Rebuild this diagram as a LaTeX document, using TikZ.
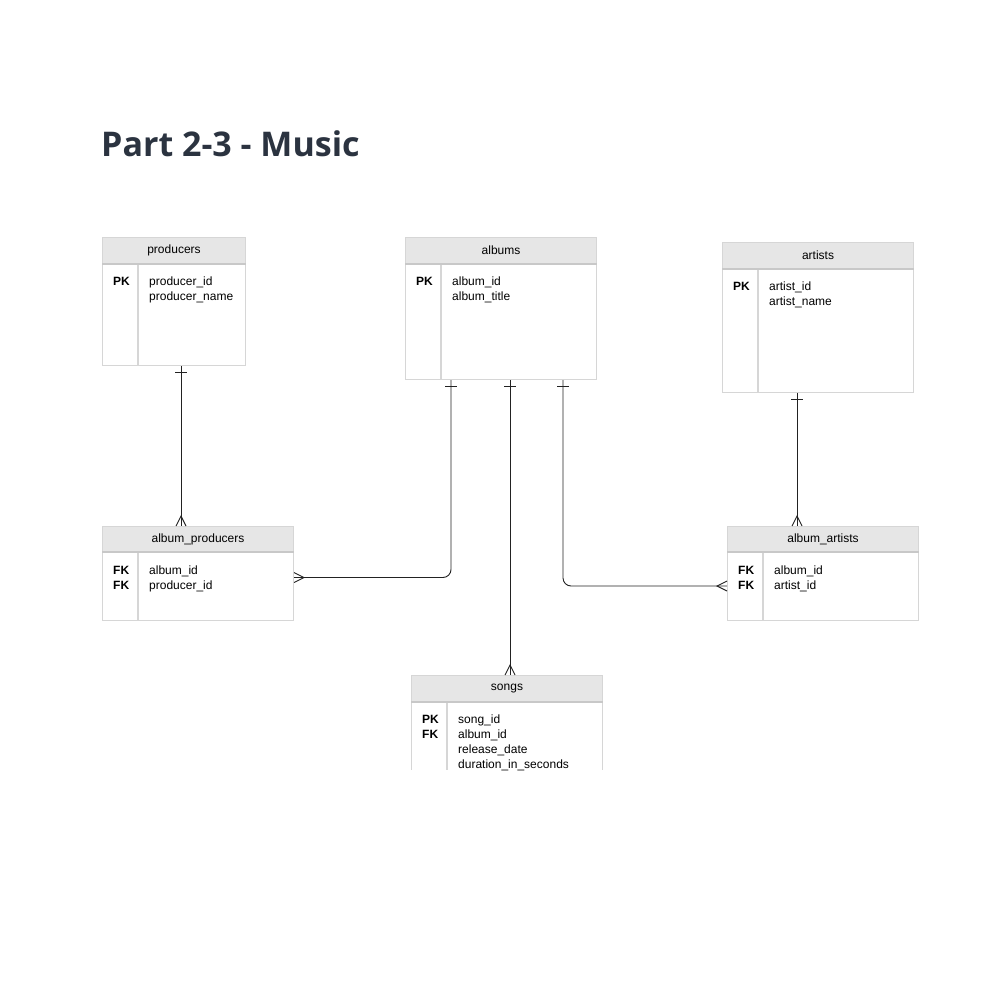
\documentclass[tikz,border=0pt]{standalone}
\usepackage{fontspec}
\setmainfont{Liberation Sans}
\newfontfamily\titlefont{Open Sans}
\usetikzlibrary{calc}
\definecolor{hdrfill}{HTML}{E6E6E6}
\definecolor{tblline}{HTML}{D6D6D6}
\definecolor{hdrline}{HTML}{C8C8C8}
\definecolor{titlecol}{HTML}{2B3340}
\definecolor{conncol}{HTML}{222222}
\newcommand{\ertab}[7]{% name, x1, ytop, x2, yhdr, ybottom, title
  \node[hdr, minimum width={#4-#2}, minimum height={#5-#3}, anchor=north west] (#1h) at (#2,#3) {#7};
  \node[body, minimum width={#4-#2}, minimum height={#6-#5}, anchor=north west] (#1) at (#2,#5) {};
  \draw[divline] ([xshift=36pt]#1h.south west) -- ([xshift=36pt]#1.south west);
  \draw[hdrsep] (#1h.south west) -- (#1h.south east);
}
\begin{document}
\begin{tikzpicture}[x=1pt,y=-1pt,
  hdr/.style={fill=hdrfill, draw=tblline, line width=1pt, inner sep=0pt, font=\fontsize{12}{14}\selectfont},
  body/.style={draw=tblline, line width=1pt, inner sep=0pt, fill=white},
  openbody/.style={inner sep=0pt},
  divline/.style={draw=tblline, line width=1.2pt},
  hdrsep/.style={draw=hdrline, line width=1.5pt},
  conn/.style={draw=conncol, line width=0.9pt, rounded corners=8pt},
  relmark/.style={draw=conncol, line width=0.9pt},
  key/.style={font=\bfseries\fontsize{12}{14}\selectfont, anchor=base west, inner sep=0pt},
  fld/.style={font=\fontsize{12}{14}\selectfont, anchor=base west, inner sep=0pt},
  ttl/.style={font=\titlefont\bfseries\fontsize{34}{40}\selectfont, text=titlecol, anchor=base west, inner sep=0pt}
]
\useasboundingbox (0,0) rectangle (1000,1000);
\fill[white] (0,0) rectangle (1000,1000);

\node[ttl] (title) at (101,157) {Part 2-3 - Music};

% producers
\ertab{producers}{102}{237}{245}{263}{365}{producers}
\node[key] (producersk1) at (113,285.5) {PK};
\node[fld] (producersf1) at (149,285.5) {producer\_id};
\node[fld] (producersf2) at (149,300.5) {producer\_name};

% albums
\ertab{albums}{405}{237}{596}{263}{379}{albums}
\node[key] (albumsk1) at (416,285.5) {PK};
\node[fld] (albumsf1) at (452,285.5) {album\_id};
\node[fld] (albumsf2) at (452,300.5) {album\_title};

% artists
\ertab{artists}{722}{242}{913}{268}{392}{artists}
\node[key] (artistsk1) at (733,290.5) {PK};
\node[fld] (artistsf1) at (769,290.5) {artist\_id};
\node[fld] (artistsf2) at (769,305.5) {artist\_name};

% album_producers
\ertab{aprod}{102}{526}{293}{551}{620}{album\_producers}
\node[key] (aprodk1) at (113,574.5) {FK};
\node[key] (aprodk2) at (113,589.5) {FK};
\node[fld] (aprodf1) at (149,574.5) {album\_id};
\node[fld] (aprodf2) at (149,589.5) {producer\_id};

% album_artists
\ertab{aart}{727}{526}{918}{551}{620}{album\_artists}
\node[key] (aartk1) at (738,574.5) {FK};
\node[key] (aartk2) at (738,589.5) {FK};
\node[fld] (aartf1) at (774,574.5) {album\_id};
\node[fld] (aartf2) at (774,589.5) {artist\_id};

% songs (open bottom)
\node[hdr, minimum width=191, minimum height=26, anchor=north west] (songsh) at (411,675) {songs};
\node[openbody, minimum width=191, minimum height=69, anchor=north west] (songs) at (411,701) {};
\draw[body] (songs.north west) -- (songs.south west);
\draw[body] (songs.north east) -- (songs.south east);
\draw[divline] ([xshift=36pt]songsh.south west) -- ([xshift=36pt]songs.south west);
\draw[hdrsep] (songsh.south west) -- (songsh.south east);
\node[key] (songsk1) at (422,723.5) {PK};
\node[key] (songsk2) at (422,738.5) {FK};
\node[fld] (songsf1) at (458,723.5) {song\_id};
\node[fld] (songsf2) at (458,738.5) {album\_id};
\node[fld] (songsf3) at (458,753.5) {release\_date};
\node[fld] (songsf4) at (458,768.5) {duration\_in\_seconds};

% connector end points
\coordinate (c1a) at ([xshift=79pt]producers.south west);
\coordinate (c1b) at ([xshift=79pt]aprodh.north west);
\coordinate (c2a) at ([xshift=46pt]albums.south west);
\coordinate (c2b) at ([yshift=8.5pt]aprod.east);
\coordinate (c3a) at ([xshift=105pt]albums.south west);
\coordinate (c3b) at ([xshift=99pt]songsh.north west);
\coordinate (c4a) at ([xshift=158pt]albums.south west);
\coordinate (c4b) at (aart.west);
\coordinate (c5a) at ([xshift=75pt]artists.south west);
\coordinate (c5b) at ([xshift=70pt]aarth.north west);

% connectors
\draw[conn] (c1a) -- (c1b);
\draw[conn] (c2a) |- (c2b);
\draw[conn] (c3a) -- (c3b);
\draw[conn] (c4a) |- (c4b);
\draw[conn] (c5a) -- (c5b);

% one marks (bars)
\draw[relmark] ([yshift=-6pt]c1a) ++(-6,0) -- ++(12,0);
\draw[relmark] ([yshift=-6pt]c2a) ++(-6,0) -- ++(12,0);
\draw[relmark] ([yshift=-6pt]c3a) ++(-6,0) -- ++(12,0);
\draw[relmark] ([yshift=-6pt]c4a) ++(-6,0) -- ++(12,0);
\draw[relmark] ([yshift=-6pt]c5a) ++(-6,0) -- ++(12,0);

% many marks (crow's feet)
\draw[relmark] (c1b) ++(-5,0) -- ++(5,-10) -- ++(5,10);
\draw[relmark] (c3b) ++(-5,0) -- ++(5,-10) -- ++(5,10);
\draw[relmark] (c5b) ++(-5,0) -- ++(5,-10) -- ++(5,10);
\draw[relmark] (c2b) ++(0,-5) -- ++(10,5) -- ++(-10,5);
\draw[relmark] (c4b) ++(0,-5) -- ++(-10,5) -- ++(10,5);
\end{tikzpicture}
\end{document}
